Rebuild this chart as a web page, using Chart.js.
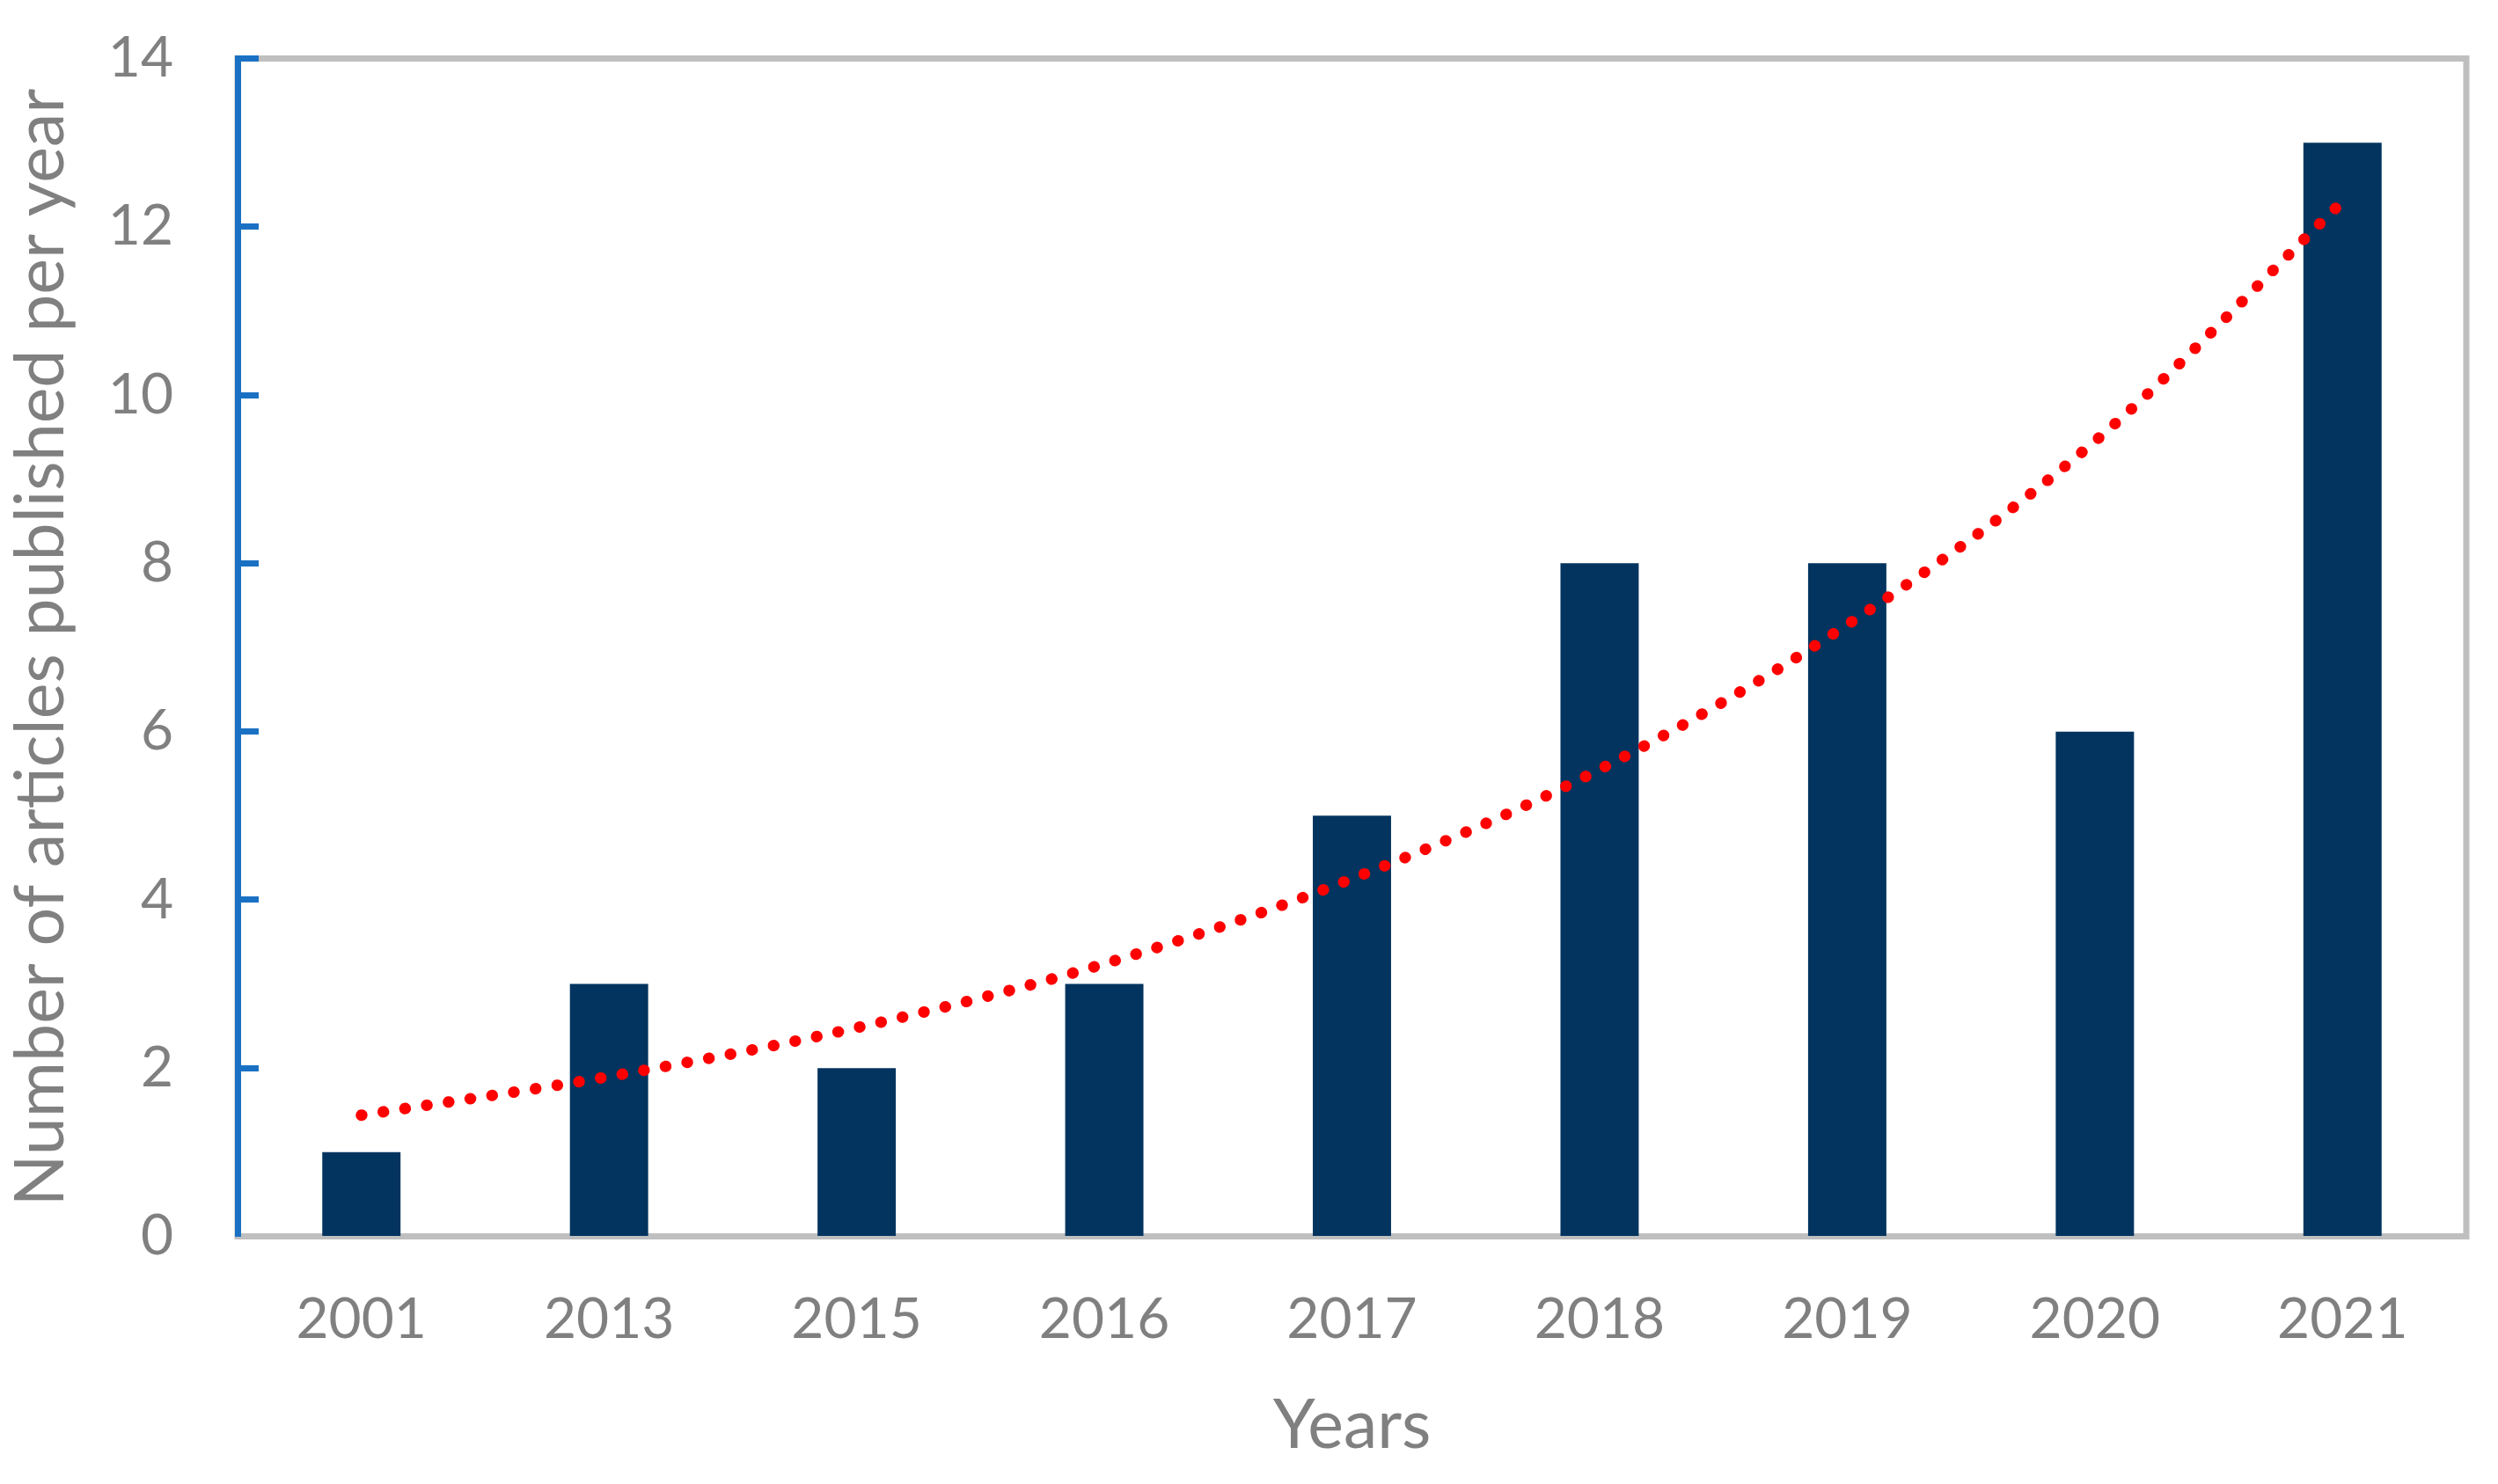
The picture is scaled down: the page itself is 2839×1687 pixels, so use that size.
<!DOCTYPE html>
<html>
<head>
<meta charset="utf-8">
<script src="https://cdn.jsdelivr.net/npm/chart.js@4.4.1/dist/chart.umd.min.js"></script>
<style>
  html, body { margin: 0; padding: 0; background: #ffffff; }
  #wrap { width: 2839px; height: 1687px; position: relative; }
  canvas { display: block; }
</style>
</head>
<body>
<div id="wrap"><canvas id="c" width="2839" height="1687"></canvas></div>
<script>
const categories = ['2001', '2013', '2015', '2016', '2017', '2018', '2019', '2020', '2021'];
const articles = [1, 3, 2, 3, 5, 8, 8, 6, 13];
const trendValues = [1.44, 1.90, 2.48, 3.24, 4.25, 5.55, 7.27, 9.45, 12.3];
const yMin = 0;
const yMax = 14;
const yStep = 2;
const xTitle = 'Years';
const yTitle = 'Number of articles published per year';

const GRAY_TEXT = '#808080';
const BORDER_GRAY = '#bfbfbf';
const AXIS_BLUE = '#1a71c4';
const BAR_COLOR = '#03345f';
const TREND_COLOR = '#ff0000';

const frame = {
  id: 'frame',
  beforeDraw(chart) {
    const a = chart.chartArea;
    const ctx = chart.ctx;
    ctx.save();
    ctx.strokeStyle = BORDER_GRAY;
    ctx.lineWidth = 7;
    ctx.strokeRect(a.left, a.top, a.right - a.left, a.bottom - a.top);
    ctx.restore();
  }
};

new Chart(document.getElementById('c'), {
  data: {
    labels: categories,
    datasets: [
      {
        type: 'line',
        label: 'Trend',
        data: trendValues,
        borderColor: TREND_COLOR,
        borderWidth: 13,
        borderCapStyle: 'round',
        borderDash: [0.5, 24.5],
        pointRadius: 0,
        cubicInterpolationMode: 'monotone',
        fill: false,
        order: 0
      },
      {
        type: 'bar',
        label: 'Articles',
        data: articles,
        backgroundColor: BAR_COLOR,
        borderWidth: 0,
        categoryPercentage: 1.0,
        barPercentage: 0.316,
        order: 1
      }
    ]
  },
  options: {
    responsive: false,
    animation: false,
    devicePixelRatio: 1,
    layout: { padding: { left: 0, top: 66.5, right: 36, bottom: 0 } },
    plugins: {
      legend: { display: false },
      tooltip: { enabled: false }
    },
    scales: {
      x: {
        type: 'category',
        z: 1,
        grid: { display: false, drawTicks: false },
        border: { display: true, color: BORDER_GRAY, width: 7 },
        ticks: {
          color: GRAY_TEXT,
          font: { family: 'Lato', size: 64 },
          padding: 56,
          maxRotation: 0,
          autoSkip: false
        },
        title: {
          display: true,
          text: xTitle,
          color: GRAY_TEXT,
          font: { family: 'Lato', size: 77 },
          padding: { top: 0, bottom: 19.6 }
        },
        afterFit(scale) {
          scale.height = 1687 - 1405.5;
          scale.paddingLeft = 0; scale.paddingRight = 0;
        }
      },
      y: {
        min: yMin,
        max: yMax,
        grid: {
          display: true,
          drawOnChartArea: false,
          drawTicks: true,
          tickLength: -24,
          tickColor: AXIS_BLUE,
          tickWidth: 7
        },
        border: { display: true, color: AXIS_BLUE, width: 7 },
        ticks: {
          stepSize: yStep,
          color: GRAY_TEXT,
          font: { family: 'Lato', size: 64 },
          padding: 97
        },
        title: {
          display: true,
          text: yTitle,
          color: GRAY_TEXT,
          font: { family: 'Lato', size: 77 },
          padding: { top: 0.5, bottom: 0 }
        },
        afterFit(scale) {
          scale.width = 270;
          scale.paddingTop = 0; scale.paddingBottom = 0;
        }
      }
    }
  },
  plugins: [frame]
});
</script>
</body>
</html>
